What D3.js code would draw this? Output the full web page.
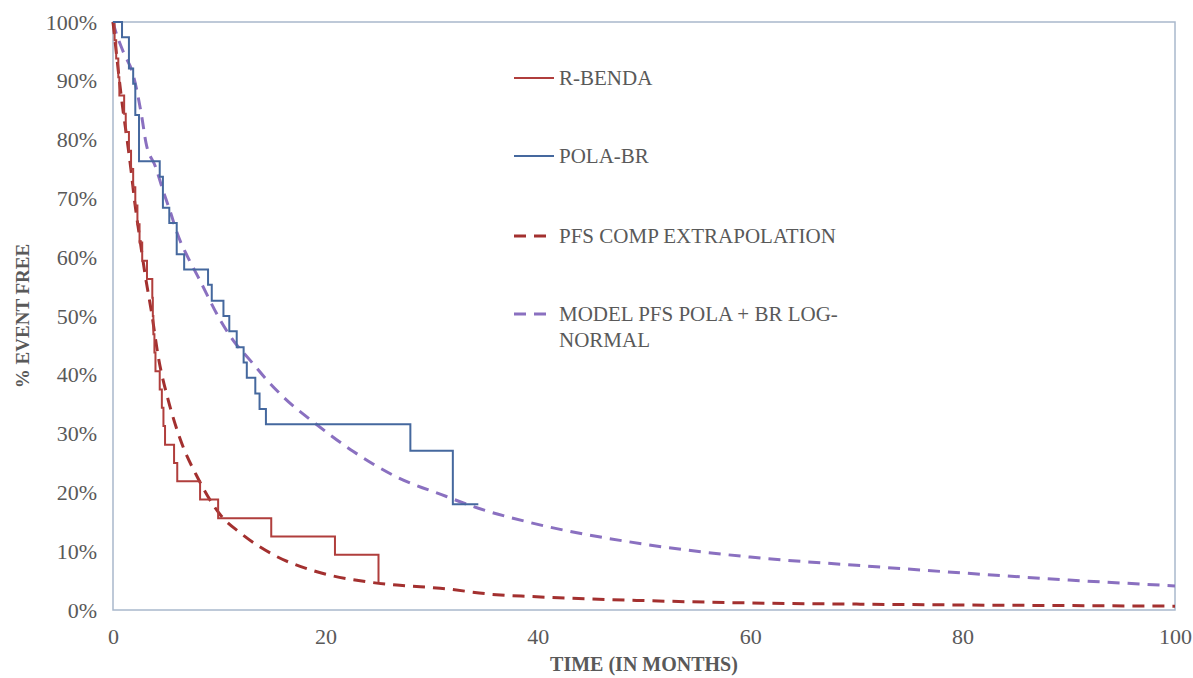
<!DOCTYPE html>
<html>
<head>
<meta charset="utf-8">
<script src="https://cdn.jsdelivr.net/npm/d3@7"></script>
<style>
  html, body { margin: 0; padding: 0; background: #ffffff; }
  svg { display: block; }
  text { font-family: "Liberation Serif", "DejaVu Serif", serif; fill: #595959; }
</style>
</head>
<body>
<svg id="chart" width="1193" height="678"></svg>
<script>
// Kaplan-Meier step data: R-BENDA arm (time in months, % event free)
const rbendaTime = [0, 0.15, 0.3, 0.5, 0.6, 1.05, 1.2, 1.5, 1.7, 1.9, 2.1, 2.3, 2.5, 2.75, 3.2, 3.7, 3.75, 3.8, 3.9, 4.0, 4.4, 4.6, 4.75, 4.9, 5.75, 6.05, 8.2, 9.9, 14.9, 20.9, 25.0];
const rbendaSurv = [100, 96.9, 93.8, 90.6, 87.5, 84.4, 81.3, 78.1, 75.0, 71.9, 68.8, 65.6, 62.5, 59.4, 56.3, 53.1, 50.0, 46.9, 43.8, 40.6, 37.5, 34.4, 31.3, 28.1, 25.0, 21.9, 18.8, 15.6, 12.5, 9.4, 4.7];

// Kaplan-Meier step data: POLA-BR arm
const polaTime = [0, 0.85, 1.5, 1.9, 2.1, 2.45, 4.4, 4.7, 5.3, 6.0, 6.7, 8.95, 9.3, 10.4, 10.95, 11.65, 12.3, 12.6, 13.4, 13.8, 14.4, 28.0, 32.0, 34.4];
const polaSurv = [100, 97.4, 92.1, 89.5, 84.2, 76.3, 73.7, 68.4, 65.8, 60.5, 57.9, 55.3, 52.6, 50.0, 47.4, 44.7, 42.1, 39.5, 36.8, 34.2, 31.6, 27.1, 18.0, 18.0];

// PFS comparator extrapolation curve
const compTime = [0, 0.3, 0.8, 1.4, 1.73, 2.0, 2.5, 3.0, 3.64, 4.27, 5.2, 6.3, 8.0, 10.1, 12.0, 15.1, 19.2, 23.9, 27, 30.8, 36.1, 39.3, 50, 60, 70, 80, 90, 100];
const compSurv = [100, 95, 87, 79, 74.3, 70, 63.5, 57.3, 50.5, 43, 35.7, 29.2, 22.4, 16.2, 13.1, 9.4, 6.5, 4.8, 4.2, 3.7, 2.6, 2.3, 1.6, 1.2, 1.0, 0.85, 0.75, 0.65];

// Log-normal model of PFS for POLA + BR
const modelTime = [0, 0.15, 0.95, 1.9, 2.7, 3.1, 4.0, 4.7, 5.4, 6.1, 7.1, 8.0, 10.1, 11.3, 12.9, 14.5, 16.0, 19.2, 22.6, 26.4, 31.4, 33.9, 39.0, 50, 60, 70, 80, 90, 100];
const modelSurv = [100, 99, 95, 91, 84, 79.5, 75.4, 71.4, 67.7, 63.8, 59.8, 56.7, 49.3, 45.9, 42.5, 39.1, 36.3, 31.5, 27.0, 22.9, 19.3, 17.6, 15.0, 11.2, 9.0, 7.6, 6.3, 5.1, 4.1];

// Axis ticks
const xTicks = [0, 20, 40, 60, 80, 100];
const yTicks = [0, 10, 20, 30, 40, 50, 60, 70, 80, 90, 100];

// Legend entries
const legendLabels = [["R-BENDA"], ["POLA-BR"], ["PFS COMP EXTRAPOLATION"], ["MODEL PFS POLA + BR LOG-", "NORMAL"]];

const colors = { rbenda: "#B03E3C", pola: "#45689E", comp: "#A3302F", model: "#8A70C0" };

const svg = d3.select("#chart");
const m = { left: 113, top: 22, right: 1175, bottom: 610 };

const x = d3.scaleLinear().domain([0, 100]).range([m.left, m.right]);
const y = d3.scaleLinear().domain([0, 100]).range([m.bottom, m.top]);

// Plot frame
svg.append("rect")
  .attr("x", m.left).attr("y", m.top)
  .attr("width", m.right - m.left).attr("height", m.bottom - m.top)
  .attr("fill", "none").attr("stroke", "#A9B8CC").attr("stroke-width", 1.5);

// Y axis labels
const yAxis = d3.axisLeft(y).tickValues(yTicks).tickSize(0).tickPadding(16)
  .tickFormat(d => d + "%");
const gy = svg.append("g").attr("transform", `translate(${m.left},0)`).call(yAxis);
gy.select(".domain").remove();
gy.selectAll("text").style("font-size", "22px").attr("fill", "#595959");

// X axis labels
const xAxis = d3.axisBottom(x).tickValues(xTicks).tickSize(0).tickPadding(18)
  .tickFormat(d3.format("d"));
const gx = svg.append("g").attr("transform", `translate(0,${m.bottom})`).call(xAxis);
gx.select(".domain").remove();
gx.selectAll("text").style("font-size", "22px").attr("fill", "#595959");

// Axis titles
svg.append("text")
  .attr("x", (m.left + m.right) / 2).attr("y", 671)
  .attr("text-anchor", "middle")
  .style("font-size", "20px").style("font-weight", "bold")
  .attr("fill", "#595959")
  .text("TIME (IN MONTHS)");

svg.append("text")
  .attr("transform", `translate(29,${(m.top + m.bottom) / 2}) rotate(-90)`)
  .attr("text-anchor", "middle")
  .style("font-size", "19px").style("font-weight", "bold")
  .attr("fill", "#595959")
  .text("% EVENT FREE");

const zip = (ts, ss) => ts.map((t, i) => [t, ss[i]]);

const stepLine = d3.line().x(d => x(d[0])).y(d => y(d[1])).curve(d3.curveStepAfter);
const smoothLine = d3.line().x(d => x(d[0])).y(d => y(d[1])).curve(d3.curveMonotoneX);

const plot = svg.append("g");

// Smooth model curves (dashed)
plot.append("path").datum(zip(modelTime, modelSurv))
  .attr("d", smoothLine).attr("fill", "none")
  .attr("stroke", colors.model).attr("stroke-width", 3)
  .attr("stroke-dasharray", "12 8");

plot.append("path").datum(zip(compTime, compSurv))
  .attr("d", smoothLine).attr("fill", "none")
  .attr("stroke", colors.comp).attr("stroke-width", 3)
  .attr("stroke-dasharray", "12 8");

// Kaplan-Meier steps (solid)
plot.append("path").datum(zip(rbendaTime, rbendaSurv))
  .attr("d", stepLine).attr("fill", "none")
  .attr("stroke", colors.rbenda).attr("stroke-width", 2);

plot.append("path").datum(zip(polaTime, polaSurv))
  .attr("d", stepLine).attr("fill", "none")
  .attr("stroke", colors.pola).attr("stroke-width", 2);

// Legend
const legendStyles = [
  { color: colors.rbenda, dash: null, width: 2 },
  { color: colors.pola, dash: null, width: 2 },
  { color: colors.comp, dash: "12 8", width: 3 },
  { color: colors.model, dash: "12 8", width: 3 }
];
const legendY = [78, 156, 236, 314];
const lg = svg.append("g");
legendLabels.forEach((lines, i) => {
  const st = legendStyles[i];
  lg.append("line")
    .attr("x1", 514).attr("x2", 554)
    .attr("y1", legendY[i]).attr("y2", legendY[i])
    .attr("stroke", st.color).attr("stroke-width", st.width)
    .attr("stroke-dasharray", st.dash);
  const t = lg.append("text")
    .attr("x", 559).attr("y", legendY[i] + 7)
    .style("font-size", "21px").attr("fill", "#595959");
  lines.forEach((ln, j) => {
    t.append("tspan").attr("x", 559).attr("dy", j === 0 ? 0 : 26).text(ln);
  });
});
</script>
</body>
</html>
